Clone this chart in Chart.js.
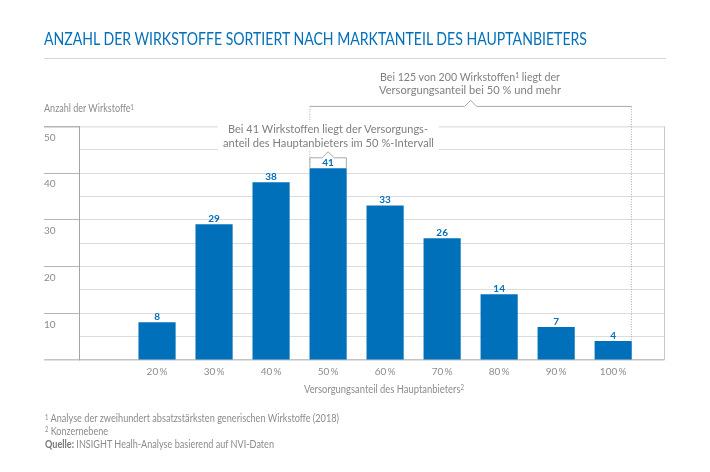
<!DOCTYPE html>
<html><head><meta charset="utf-8">
<script src="https://cdn.jsdelivr.net/npm/chart.js@4"></script>
<style>
html,body{margin:0;padding:0;background:#fff;}
#wrap{position:relative;width:710px;height:472px;overflow:hidden;font-family:Lato,sans-serif;}
canvas{position:absolute;left:0;top:0;}
.t{position:absolute;white-space:nowrap;color:#8c8c8c;transform-origin:left center;line-height:14px;}
.note{color:#7f7f7f;font-size:12px;}
.small{font-size:10.5px;}
sup{font-size:65%;line-height:0;vertical-align:baseline;position:relative;top:-.35em;}
</style></head><body>
<div id="wrap">
<canvas id="c" width="710" height="472"></canvas>
<div class="t" data-w="543" style="left:44px;top:32px;color:#0070ba;font-size:16.5px;">ANZAHL DER WIRKSTOFFE SORTIERT NACH MARKTANTEIL DES HAUPTANBIETERS</div>
<div style="position:absolute;left:44px;top:57.5px;width:622px;height:1px;background:#d6d6d6"></div>
<div class="t small" data-w="90" style="left:44px;top:101px;">Anzahl der Wirkstoffe<sup>1</sup></div>
<div style="position:absolute;left:218px;top:122px;width:221px;height:29px;background:#fff;"></div>
<div class="t note" data-w="200" style="left:228px;top:122px;">Bei 41 Wirkstoffen liegt der Versorgungs-</div>
<div class="t note" data-w="211" style="left:223px;top:135.5px;">anteil des Hauptanbieters im 50 %-Intervall</div>
<div class="t note" data-w="180" style="left:380px;top:70px;">Bei 125 von 200 Wirkstoffen<sup>1</sup> liegt der</div>
<div class="t note" data-w="182" style="left:379px;top:83px;">Versorgungsanteil bei 50 % und mehr</div>
<div class="t small" data-w="160" style="left:304px;top:381.5px;">Versorgungsanteil des Hauptanbieters<sup>2</sup></div>
<div class="t small" data-w="294" style="left:45px;top:411px;"><sup>1</sup> Analyse der zweihundert absatzstärksten generischen Wirkstoffe (2018)</div>
<div class="t small" data-w="63" style="left:45px;top:423.5px;"><sup>2</sup> Konzernebene</div>
<div class="t small" data-w="229" style="left:44.5px;top:436.5px;"><b style="color:#777">Quelle:</b> INSIGHT Healh-Analyse basierend auf NVI-Daten</div>
</div>
<script>
const categories=[20,30,40,50,60,70,80,90,100];
const values=[8,29,38,41,33,26,14,7,4];
const yMax=50;
const xMin=6.4,xMax=109;
const BLUE='#0070ba';
const FONT="Lato,sans-serif";
document.querySelectorAll('[data-w]').forEach(e=>{
  const n=e.getBoundingClientRect().width;
  e.style.transform='scaleX('+(parseFloat(e.dataset.w)/n)+')';
});
const overlay={id:'overlay',
 afterDatasetsDraw(ch){
  const g=ch.ctx,y=ch.scales.y,meta=ch.getDatasetMeta(0);
  const bars=meta.data;
  g.save();
  g.fillStyle=BLUE;g.font='bold 10px '+FONT;g.textAlign='center';g.textBaseline='alphabetic';
  bars.forEach((b,i)=>g.fillText(String(values[i]),b.x,b.y-2.5));
  const b50=bars[3],b100=bars[8];
  const half=b50.width/2;
  const L=b50.x-half,R=b100.x+half,T=y.getPixelForValue(54.3);
  const mid=(L+R)/2;
  g.strokeStyle='#a9a9a9';g.lineWidth=1;
  g.beginPath();g.moveTo(L,T);g.lineTo(mid-6,T);g.lineTo(mid,T-6);g.lineTo(mid+6,T);g.lineTo(R,T);g.stroke();
  g.setLineDash([1,1.5]);
  g.beginPath();g.moveTo(L,T);g.lineTo(L,y.getPixelForValue(42.2));g.moveTo(R,T);g.lineTo(R,b100.y);g.stroke();
  g.setLineDash([]);
  const sL=b50.x-half,sR=b50.x+half,sT=y.getPixelForValue(43.3),sB=b50.y;
  g.beginPath();g.moveTo(sL,sB);g.lineTo(sL,sT);g.lineTo(b50.x-6,sT);g.lineTo(b50.x,sT-6);g.lineTo(b50.x+6,sT);g.lineTo(sR,sT);g.lineTo(sR,sB);g.stroke();
  g.restore();
 }};
new Chart(document.getElementById('c'),{
 type:'bar',
 data:{datasets:[{data:categories.map((c,i)=>({x:c,y:values[i]})),backgroundColor:BLUE,borderWidth:0,barThickness:36.5}]},
 options:{responsive:false,animation:false,devicePixelRatio:1,
  layout:{padding:{left:44,right:45.5,top:126.5,bottom:92}},
  plugins:{legend:{display:false},tooltip:{enabled:false}},
  scales:{
   x:{type:'linear',offset:false,min:xMin,max:xMax,
    afterBuildTicks(a){a.ticks=categories.map(v=>({value:v}));},
    afterFit(a){a.height=20;},
    grid:{display:false,drawTicks:false},border:{display:false},
    ticks:{padding:6,maxRotation:0,autoSkip:false,color:'#8c8c8c',font:{family:FONT,size:10},callback:v=>v+'\u2009%'}},
   y:{min:0,max:yMax,
    afterFit(a){a.width=35.5;},
    border:{display:true,color:'#a5a5a5',width:1},
    grid:{color:c=>c.tick.value===0?'#c4c4c4':(c.tick.value===yMax?'#e4e4e4':'#dcdcdc'),
      lineWidth:c=>(c.tick.value===0||c.tick.value===yMax)?1.6:1,
      tickColor:c=>c.tick.value%10===0?(c.tick.value===0?'#c4c4c4':'#b5b5b5'):'rgba(0,0,0,0)',tickLength:35.5},
    ticks:{stepSize:5,autoSkip:false,crossAlign:'far',padding:0,labelOffset:11,color:'#8c8c8c',font:{family:FONT,size:10},
      callback:v=>(v%10===0&&v!==0)?String(v):''}}
  }},
 plugins:[overlay,{id:'rightEdge',beforeDatasetsDraw(ch){const a=ch.chartArea,g=ch.ctx;g.save();g.strokeStyle='#c8c8c8';g.lineWidth=1;g.beginPath();g.moveTo(a.right,a.top);g.lineTo(a.right,a.bottom);g.stroke();g.restore();}}]
});
</script>
</body></html>
